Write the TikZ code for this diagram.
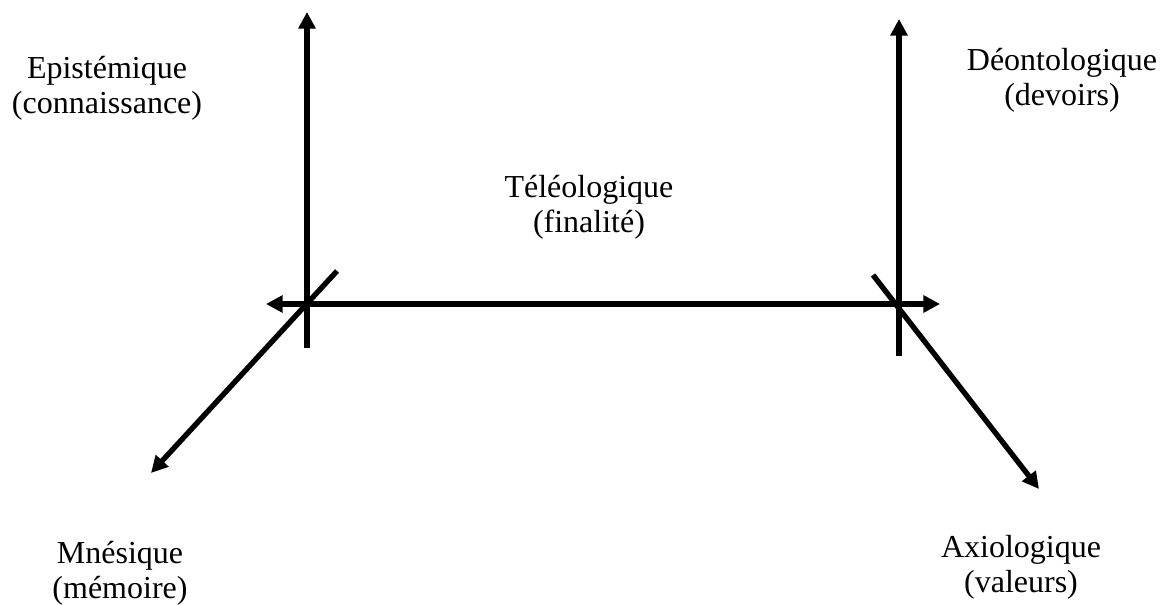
\documentclass[tikz,border=0pt]{standalone}
\usepackage{fontspec}
\setmainfont{Liberation Serif}
\usetikzlibrary{arrows.meta}
\begin{document}
\begin{tikzpicture}[x=0.75pt,y=-0.75pt,
  axis/.style={line width=4pt, draw=black},
  tipped/.style={-{Triangle[length=12.5pt,width=12.5pt]}},
  lbl/.style={align=center, font=\fontsize{24}{26}\selectfont, inner sep=0pt}]
\useasboundingbox (0,0) rectangle (1170,605);
% coordinates
\coordinate (Ltop) at (307,12);
\coordinate (Lbot) at (307,348);
\coordinate (Rtop) at (899,19);
\coordinate (Rbot) at (899,356);
\coordinate (Hl) at (266,304);
\coordinate (Hr) at (940,304);
\coordinate (Hm) at (603,304);
\coordinate (DLs) at (337,271);
\coordinate (DLe) at (151,473);
\coordinate (DRs) at (873,275);
\coordinate (DRe) at (1039,489);
% axes
\draw[axis,tipped] (Lbot) -- (Ltop);
\draw[axis,tipped] (Rbot) -- (Rtop);
\draw[axis,tipped] (Hm) -- (Hl);
\draw[axis,tipped] (Hm) -- (Hr);
\draw[axis,tipped] (DLs) -- (DLe);
\draw[axis,tipped] (DRs) -- (DRe);
% labels
\node[lbl] (epi) at (107,88) {Epistémique\\(connaissance)};
\node[lbl] (deo) at (1062,80) {Déontologique\\(devoirs)};
\node[lbl] (tel) at (589,207) {Téléologique\\(finalité)};
\node[lbl] (mne) at (120,573) {Mnésique\\(mémoire)};
\node[lbl] (axi) at (1021,567) {Axiologique\\(valeurs)};
\end{tikzpicture}
\end{document}
